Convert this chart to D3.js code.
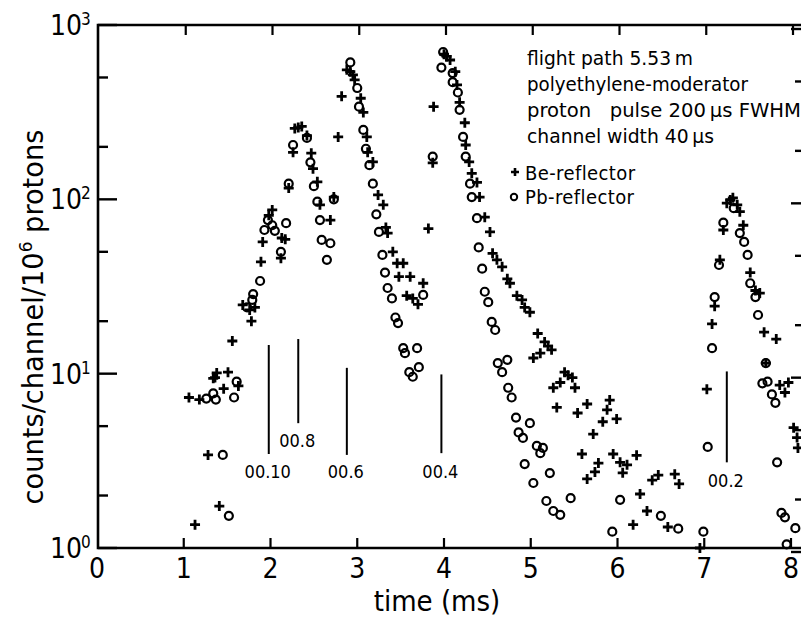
<!DOCTYPE html>
<html>
<head>
<meta charset="utf-8">
<title></title>
<script src="https://cdn.jsdelivr.net/npm/d3@7/dist/d3.min.js"></script>
<style>
  body { margin: 0; background: #fff; }
  text { font-family: "DejaVu Sans Condensed", "DejaVu Sans", sans-serif; font-stretch: condensed; fill: #000; }
</style>
</head>
<body>
<script>
// data: [time (ms), counts/channel/10^6 protons]
const timeTicks = [0, 1, 2, 3, 4, 5, 6, 7, 8]
const decadeExps = [0, 1, 2, 3]
const minorTicks = [2, 5, 20, 50, 200, 500]
const legendLines = ['flight path 5.53\u2009m', 'polyethylene-moderator', 'proton \u00a0 pulse 200\u2009\u00b5s FWHM', 'channel width 40\u2009\u00b5s']
const seriesNames = ['Be-reflector', 'Pb-reflector']

const bePoints = [
  [1.13,1.36],[1.41,1.74],[1.28,3.42],[1.06,7.3],[1.18,7.1],[1.34,9.4],[1.38,10.1],[1.36,9.5],[1.46,8.2],[1.51,10.2],
  [1.63,8.5],[1.56,15.4],[1.78,20],[1.68,24.8],[1.76,23.2],[1.82,24],[1.89,43.8],[2.02,87],[1.98,81],[2.13,60],
  [2.17,59],[1.91,57],[2.12,46],
  [2.28,255],[2.32,258],[2.36,262],[2.42,232],[2.26,186],[2.47,184],[2.49,150],[2.21,116],[2.54,126],[2.57,93],
  [2.73,103],[2.69,76],
  [2.82,390],[2.88,553],[2.92,540],[2.95,517],[2.97,484],[3.04,380],[3.07,315],[2.78,228],[3.11,228],[3.12,186],
  [3.18,164],[3.24,106],[3.30,93],[3.33,69],[3.35,64],[3.41,50],[3.46,43],[3.53,43],[3.48,36],[3.61,36],[3.76,33],
  [3.57,28],[3.64,27],[3.70,25],
  [3.82,68],[3.87,162],[3.88,340],[4.00,680],[4.03,660],[4.07,630],[4.13,540],[4.15,453],[4.18,360],[4.24,275],
  [4.25,205],[4.29,164],[4.32,141],[4.38,125],[4.41,103],[4.47,79],[4.53,65],[4.56,49],[4.61,45],[4.67,41],[4.73,35],
  [4.76,33],[4.84,28],[4.90,26.5],[4.93,24],[4.99,22.5],[5.08,17],[5.16,15.2],[5.20,14.4],[5.24,13.7],[5.11,13.1],
  [5.03,12.3],[5.39,10.2],[5.43,9.8],[5.48,9.5],[5.34,8.9],[5.26,8.3],[5.51,8.3],[5.30,6.4],[5.54,5.95],[5.65,6.7],
  [5.91,7.06],[5.88,6.2],[5.83,5.3],[5.99,5.5],[5.72,4.5],[5.59,3.46],[5.95,3.46],[6.03,3.1],[6.11,3.0],[6.22,3.4],
  [6.06,2.7],[5.78,3.07],[5.74,2.73],[5.65,2.49],[6.26,2.04],[6.34,1.63],[6.18,1.36],[6.40,2.45],[6.47,2.62],
  [6.66,2.65],[6.71,2.33],[6.58,1.32],[6.95,1.0],
  [7.03,8.15],[7.09,19.3],[7.12,24.4],[7.18,45],[7.22,66.7],[7.26,95],[7.30,99],[7.33,102],[7.38,93],[7.41,85],
  [7.45,71],[7.53,38],[7.59,30],[7.64,29],[7.69,17.3],[7.83,15.8],[7.71,11.5],[7.87,8.6],[7.93,7.8],[7.97,8.9],
  [8.03,4.9],[8.07,4.3],[8.08,3.75]
]

const pbPoints = [
  [1.52,1.53],[1.45,3.42],[1.26,7.2],[1.34,7.7],[1.37,7.1],[1.58,7.3],[1.61,9.0],[1.73,24],[1.79,26.5],[1.80,28.6],
  [1.88,34],[1.93,66.7],[1.97,76],[2.02,71],[2.05,66],[2.18,73],[2.12,50],
  [2.26,205],[2.42,225],[2.46,163],[2.21,123],[2.50,119],[2.54,97],[2.73,100],[2.57,76],[2.59,58.5],[2.69,56],[2.65,45],
  [2.92,610],[3.00,435],[3.02,340],[3.07,250],[3.10,195],[3.14,157],[3.18,123],[3.22,82],[3.25,65],[3.29,48],
  [3.32,38],[3.35,31],[3.40,27],[3.44,21],[3.47,19.5],[3.53,14],[3.55,13.1],[3.69,14],[3.60,10.2],[3.64,9.6],
  [3.71,10.9],[3.76,28.3],
  [3.87,176],[3.99,700],[3.97,570],[4.10,530],[4.10,470],[4.16,410],[4.18,326],[4.22,228],[4.25,176],[4.30,123],
  [4.32,103],[4.38,78],[4.40,53],[4.44,40],[4.47,29.5],[4.51,25.7],[4.55,19.8],[4.59,17.8],[4.62,11.5],[4.73,12],
  [4.67,10.2],[4.74,8.3],[4.78,7.3],[4.83,5.6],[4.86,4.6],[4.91,4.28],[4.99,5.2],[5.07,3.85],[5.14,3.75],[5.11,3.5],
  [4.93,3.03],[5.22,2.69],[5.03,2.36],[5.18,1.86],[5.26,1.63],[5.34,1.55],[5.46,1.93],[6.03,1.89],[5.94,1.24],
  [6.50,1.53],[6.70,1.29],[6.99,1.24],
  [7.04,3.8],[7.09,14],[7.12,27.5],[7.17,42],[7.22,73.5],[7.34,89],[7.41,64],[7.46,57],[7.50,48],[7.53,33],
  [7.59,27.5],[7.62,21.7],[7.71,11.5],[7.67,8.8],[7.73,9.0],[7.78,7.6],[7.82,6.8],[7.84,3.1],[7.89,1.59],[7.93,1.5],
  [8.05,1.3],[7.95,1.05]
]

// marker lines: time, top and bottom of the line (counts), label level (counts), label
const markTime = [1.98, 2.32, 2.88, 3.97, 7.26]
const markTop = [14.6, 15.8, 10.8, 9.9, 10.3]
const markBottom = [3.46, 5.2, 3.42, 3.5, 3.1]
const markLabelAt = [2.52, 3.8, 2.52, 2.52, 2.24]
const markLabels = ['00.10', '00.8', '00.6', '00.4', '00.2']

const width = 801
const height = 620

const svg = d3.select('body').append('svg')
    .attr('width', width)
    .attr('height', height)

const x = d3.scaleLinear().domain([0, 8]).range([97, 791])
const y = d3.scaleLog().domain([1, 1000]).range([548, 25])
const xLeft = 98, xRight = 804, yTop = 25, yBottom = 548

// frame
svg.append('path')
    .attr('d', `M${xLeft},${yTop}H${xRight}V${yBottom}H${xLeft}Z`)
    .attr('fill', 'none')
    .attr('stroke', '#000')
    .attr('stroke-width', 2.6)

// y ticks, left and right, pointing inward
const yTicks = decadeExps.map(e => ({ v: Math.pow(10, e), major: true }))
    .concat(minorTicks.map(v => ({ v, major: false })))
svg.selectAll('.ytl').data(yTicks).enter().append('line')
    .attr('x1', xLeft).attr('x2', d => xLeft + (d.major ? 19 : 10))
    .attr('y1', d => y(d.v)).attr('y2', d => y(d.v))
    .attr('stroke', '#000').attr('stroke-width', 2.4)
svg.selectAll('.ytr').data(yTicks).enter().append('line')
    .attr('x1', xRight).attr('x2', d => xRight - (d.major ? 13 : 9))
    .attr('y1', d => y(d.v) + 4).attr('y2', d => y(d.v) + 4)
    .attr('stroke', '#000').attr('stroke-width', 2.4)

// x ticks top and bottom
const xt = timeTicks.filter(d => d > 0)
svg.selectAll('.xtb').data(xt).enter().append('line')
    .attr('x1', d => x(d)).attr('x2', d => x(d))
    .attr('y1', yBottom).attr('y2', yBottom - 10)
    .attr('stroke', '#000').attr('stroke-width', 2.2)
svg.selectAll('.xtt').data(xt).enter().append('line')
    .attr('x1', d => x(d) + 2).attr('x2', d => x(d) + 2)
    .attr('y1', yTop).attr('y2', yTop + 10)
    .attr('stroke', '#000').attr('stroke-width', 2.2)

// tick labels
svg.selectAll('.xl').data(timeTicks).enter().append('text')
    .attr('x', d => x(d)).attr('y', 578)
    .attr('text-anchor', 'middle')
    .attr('font-size', 28)
    .text(d => d)

decadeExps.forEach(e => {
  const ty = y(Math.pow(10, e))
  svg.append('text')
      .attr('x', 82).attr('y', ty + 10)
      .attr('text-anchor', 'end')
      .attr('font-size', 28)
      .text('10')
  svg.append('text')
      .attr('x', 81).attr('y', ty)
      .attr('font-size', 17)
      .text(e)
})

// axis titles
svg.append('text')
    .attr('x', 437).attr('y', 611)
    .attr('text-anchor', 'middle')
    .attr('font-size', 29)
    .text('time (ms)')

const yt = svg.append('text')
    .attr('transform', 'translate(43,317) rotate(-90)')
    .attr('text-anchor', 'middle')
    .attr('font-size', 29)
    .attr('textLength', 375)
    .attr('lengthAdjust', 'spacingAndGlyphs')
yt.append('tspan').text('counts/channel/10')
yt.append('tspan').attr('dy', -11).attr('font-size', 18).text('6')
yt.append('tspan').attr('dy', 11).text(' protons')

// marker lines
markTime.forEach((t, i) => {
  svg.append('line')
      .attr('x1', x(t)).attr('x2', x(t))
      .attr('y1', y(markTop[i])).attr('y2', y(markBottom[i]))
      .attr('stroke', '#000').attr('stroke-width', 2)
  svg.append('text')
      .attr('x', x(t) - 1).attr('y', y(markLabelAt[i]))
      .attr('text-anchor', 'middle')
      .attr('font-size', 18)
      .text(markLabels[i])
})

// data points
const plus = 'M-5,0H5M0,-5V5'
svg.selectAll('.be').data(bePoints).enter().append('path')
    .attr('transform', d => `translate(${x(d[0])},${y(d[1])})`)
    .attr('d', plus)
    .attr('stroke', '#000').attr('stroke-width', 2.8)
svg.selectAll('.pb').data(pbPoints).enter().append('circle')
    .attr('cx', d => x(d[0])).attr('cy', d => y(d[1]))
    .attr('r', 4)
    .attr('fill', 'none')
    .attr('stroke', '#000').attr('stroke-width', 2.2)

// legend text, each line stretched to the width it has in the figure
const legendWidths = [166, 221, 274, 187]
const lg = svg.append('g')
legendLines.forEach((s, i) => {
  lg.append('text')
      .attr('x', 527).attr('y', 65 + i * 26)
      .attr('font-size', 20)
      .attr('textLength', legendWidths[i])
      .attr('lengthAdjust', 'spacingAndGlyphs')
      .style('white-space', 'pre')
      .text(s)
})
lg.append('path')
    .attr('transform', 'translate(515,172)')
    .attr('d', 'M-4,0H4M0,-4V4')
    .attr('stroke', '#000').attr('stroke-width', 2.6)
lg.append('circle')
    .attr('cx', 514).attr('cy', 197).attr('r', 3.2)
    .attr('fill', 'none').attr('stroke', '#000').attr('stroke-width', 2)
seriesNames.forEach((s, i) => {
  lg.append('text')
      .attr('x', 525).attr('y', 180 + i * 24)
      .attr('font-size', 20)
      .attr('letter-spacing', 0.4)
      .text(s)
})
</script>
</body>
</html>
